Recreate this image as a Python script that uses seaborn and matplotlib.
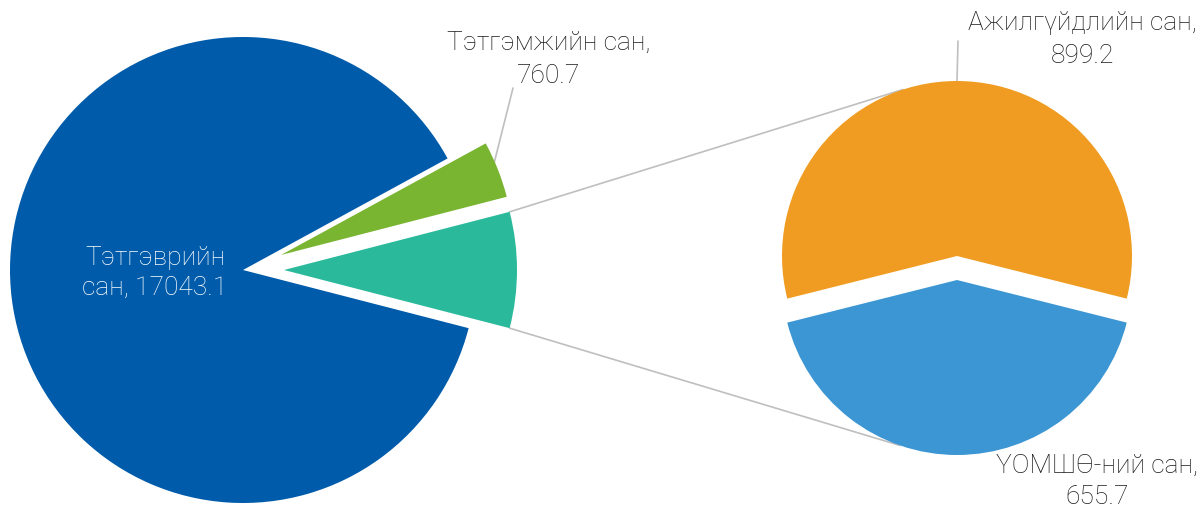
import numpy as np
import matplotlib
matplotlib.use("Agg")
import matplotlib.pyplot as plt
import seaborn as sns

# ---- data ----
main_labels = ["Тэтгэврийн сан", "Тэтгэмжийн сан"]
main_values = [17043.1, 760.7]
sub_labels = ["Ажилгүйдлийн сан", "ҮОМШӨ-ний сан"]
sub_values = [899.2, 655.7]

sns.set_theme(style="white")
plt.rcParams['font.family'] = ['Roboto', 'DejaVu Sans']

main_colors = ["#005BAA", "#7AB532"]
other_color = "#2ABA9B"
sub_colors = ["#F09C22", "#3B96D3"]
line_color = "#BFBFBF"

W, H = 1204, 512
fig = plt.figure(figsize=(W / 100, H / 100), dpi=100)
ax = fig.add_axes([0, 0, 1, 1])

def py(y):
    return H - y

# left pie: order [other, Тэтгэмж, Тэтгэвэр] counter-clockwise
other_total = sum(sub_values)
left_vals = [other_total, main_values[1], main_values[0]]
left_cols = [other_color, main_colors[1], main_colors[0]]
total_left = sum(left_vals)
other_ang = 360 * other_total / total_left
start_left = -other_ang / 2
L_c = (243, py(270))
L_r = 233
L_ex = 41  # explode offset in data units (pixels)
wedges_l, _ = ax.pie(left_vals, colors=left_cols, startangle=start_left,
                     counterclock=True, center=L_c, radius=L_r,
                     explode=[L_ex, L_ex, 0], frame=True,
                     wedgeprops=dict(linewidth=0))

# right pie
total_sub = sum(sub_values)
orange_ang = 360 * sub_values[0] / total_sub
start_right = 90 - orange_ang / 2
R_c = (957, py(268))
R_r = 175
R_ex = 12
wedges_r, _ = ax.pie(sub_values, colors=sub_colors, startangle=start_right,
                     counterclock=True, center=R_c, radius=R_r,
                     explode=[R_ex, R_ex], frame=True,
                     wedgeprops=dict(linewidth=0))
ax.set_xlim(0, W)
ax.set_ylim(0, H)
ax.set_aspect("equal")
ax.axis("off")

def polar(c, r, ang):
    a = np.deg2rad(ang)
    return c[0] + r * np.cos(a), c[1] + r * np.sin(a)

# connector lines from "other" wedge to sub pie
ow = wedges_l[0]
oc = ow.center
p_top = polar(oc, L_r, ow.theta2)
p_bot = polar(oc, L_r, ow.theta1)
q_top = polar(wedges_r[0].center, R_r, 108)
q_bot = polar(wedges_r[1].center, R_r, 251)
ax.plot([p_top[0], q_top[0]], [p_top[1], q_top[1]], color=line_color, lw=1.2, zorder=0)
ax.plot([p_bot[0], q_bot[0]], [p_bot[1], q_bot[1]], color=line_color, lw=1.2, zorder=0)

# leader lines
gw = wedges_l[1]
gmid = (gw.theta1 + gw.theta2) / 2
g0 = polar(gw.center, L_r - 2, gmid + 1.5)
ax.plot([g0[0], 513], [g0[1], py(88)], color=line_color, lw=1.2, zorder=0)
ow2 = wedges_r[0]
o0 = polar(ow2.center, R_r, 90)
ax.plot([o0[0], o0[0] + 1], [o0[1], py(41)], color=line_color, lw=1.2, zorder=0)

fs = 19
txt = dict(fontsize=fs, fontweight="light", ha="center", va="top",
           multialignment="center", linespacing=1.45)
ax.text(155, py(246), f"{main_labels[0].split()[0]}\n{main_labels[0].split()[1]}, {main_values[0]}",
        color="white", **dict(txt, linespacing=1.3))
ax.text(549, py(31), f"{main_labels[1]},\n{main_values[1]}", color="#1a1a1a", **txt)
ax.text(1082, py(11), f"{sub_labels[0]},\n{sub_values[0]}", color="#1a1a1a", **txt)
ax.text(1097, py(454), f"{sub_labels[1]},\n{sub_values[1]}", color="#1a1a1a", **dict(txt, linespacing=1.35))

fig.savefig("out.png", dpi=100, facecolor="white")
